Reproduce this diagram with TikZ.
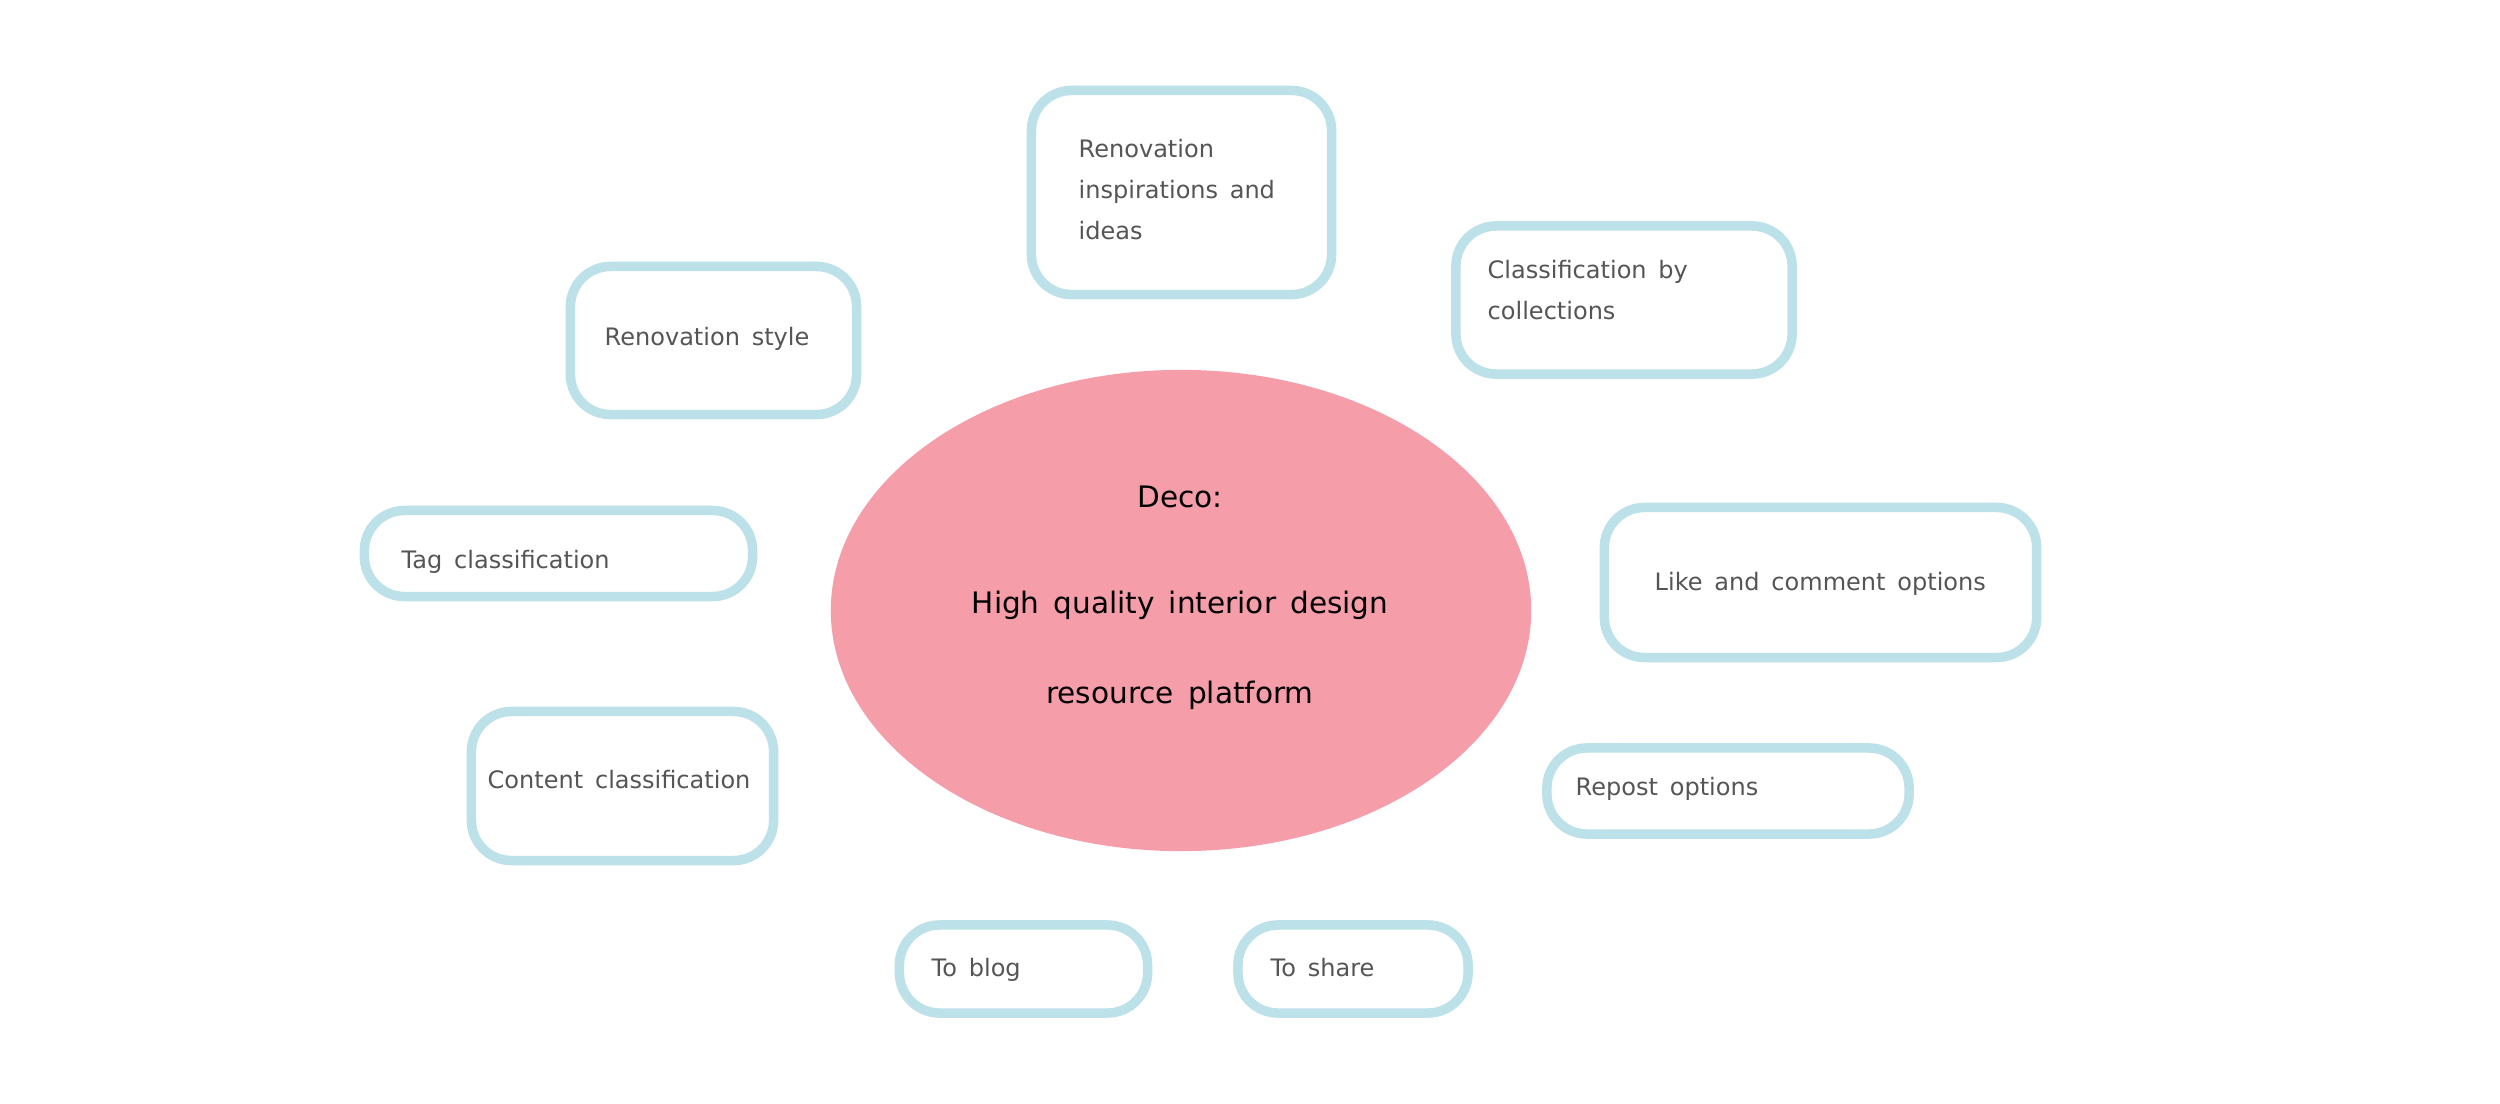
\documentclass[tikz,border=0pt]{standalone}
\usepackage{fontspec}
\setmainfont{DejaVu Sans}[WordSpace=1.55]
\newfontfamily\centerfont{DejaVu Sans}
\definecolor{boxline}{HTML}{BCE1E9}
\definecolor{ellfill}{HTML}{F69DAA}
\definecolor{boxtext}{HTML}{555555}
\newcommand\hubspaces{\spaceskip=4.0pt\relax}
\newcommand\boxspaces{\spaceskip=3.3pt\relax}
\usetikzlibrary{shapes.geometric}
\begin{document}
\begin{tikzpicture}[x=0.01cm,y=-0.01cm,
  itembox/.style={draw=boxline, line width=0.095cm, rounded corners=0.4cm, fill=white,
    rectangle, inner sep=0pt},
  itemtext/.style={anchor=base west, inner sep=0pt, text=boxtext,
    font=\fontsize{6.83pt}{11.67pt}\selectfont},
  multitext/.style={itemtext, text width=#1, align=left},
  hub/.style={ellipse, fill=ellfill, draw=none, minimum width=7cm, minimum height=4.81cm, inner sep=0pt}
]
\useasboundingbox (0,0) rectangle (2500,1103);
\fill[white] (0,0) rectangle (2500,1103);

% central hub
\node[hub] (hub) at (1181,610.5) {};
\node[anchor=base, inner sep=0pt, text width=6cm, align=center,
      font=\centerfont\fontsize{8.4pt}{25.6pt}\selectfont]
  (hubtext) at (1180,507) {\hubspaces Deco:\\[4.55pt]High quality interior design\\resource platform};

% boxes
\node[itembox, minimum width=3.00cm, minimum height=2.04cm] (ins) at (1181.5,192.5) {};
\node[multitext=2.6cm] (instext) at (1078,157) {\boxspaces Renovation\\inspirations and\\ideas};

\node[itembox, minimum width=3.36cm, minimum height=1.48cm] (coll) at (1624,300) {};
\node[multitext=2.8cm] (colltext) at (1487,278) {\boxspaces Classification by\\collections};

\node[itembox, minimum width=2.86cm, minimum height=1.48cm] (style) at (713.5,340.5) {};
\node[itemtext] (styletext) at (604,345) {Renovation style};

\node[itembox, minimum width=3.88cm, minimum height=0.86cm] (tag) at (558.5,553.5) {};
\node[itemtext] (tagtext) at (401,568) {Tag classification};

\node[itembox, minimum width=3.02cm, minimum height=1.49cm] (content) at (622.5,786) {};
\node[itemtext] (contenttext) at (487,788) {Content classification};

\node[itembox, minimum width=4.32cm, minimum height=1.50cm] (like) at (1820.5,582.5) {};
\node[itemtext] (liketext) at (1654,590) {Like and comment options};

\node[itembox, minimum width=3.62cm, minimum height=0.86cm] (repost) at (1728,791) {};
\node[itemtext] (reposttext) at (1575,795) {Repost options};

\node[itembox, minimum width=2.48cm, minimum height=0.88cm] (blog) at (1023.5,969) {};
\node[itemtext] (blogtext) at (931,976) {To blog};

\node[itembox, minimum width=2.30cm, minimum height=0.88cm] (share) at (1353,969) {};
\node[itemtext] (sharetext) at (1270,976) {To share};
\end{tikzpicture}
\end{document}
